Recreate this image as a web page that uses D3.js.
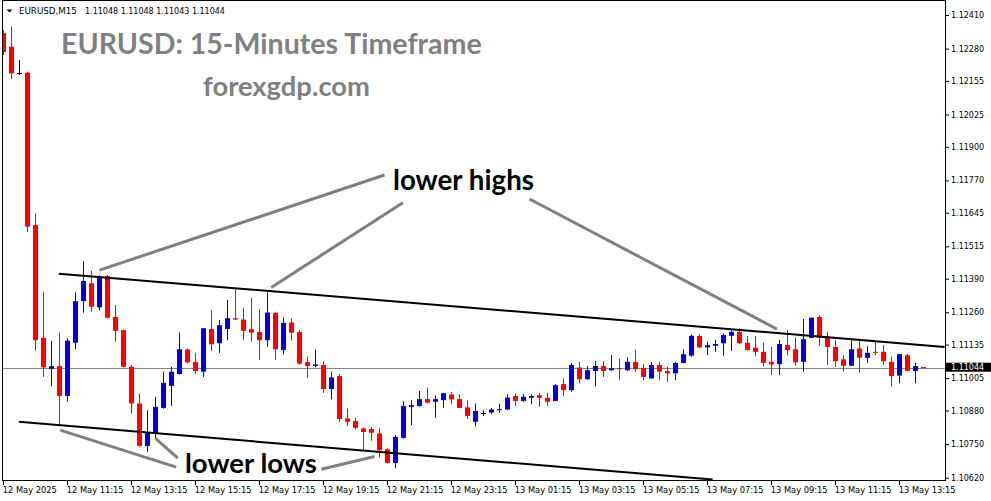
<!DOCTYPE html>
<html><head><meta charset="utf-8">
<script src="https://cdn.jsdelivr.net/npm/d3@7"></script>
<style>
html,body{margin:0;padding:0;background:#fff;}
svg{display:block;}
</style></head><body>
<svg id="c" width="991" height="501"></svg>
<script>
// ---------- data ----------
const symbol = "EURUSD,M15";
const titleText = "EURUSD: 15-Minutes Timeframe";
const siteText = "forexgdp.com";
const timeTickIndex = [0,8,16,24,32,40,48,56,64,72,80,88,96,104,112];
const timeLabels = ["12 May 2025","12 May 11:15","12 May 13:15","12 May 15:15","12 May 17:15","12 May 19:15","12 May 21:15","12 May 23:15","13 May 01:15","13 May 03:15","13 May 05:15","13 May 07:15","13 May 09:15","13 May 11:15","13 May 13:15"];
const priceTicks = [1.12410,1.12280,1.12155,1.12025,1.11900,1.11770,1.11645,1.11515,1.11390,1.11260,1.11135,1.11005,1.10880,1.10750,1.10620];

const open = [
1.12340,1.12287,1.12184,1.12187,1.11597,1.11161,1.11041,1.11052,1.10936,1.11142,
1.11303,1.11372,1.11279,1.11400,1.11242,1.11191,1.11049,1.10907,1.10743,1.10791,
1.10890,1.10975,1.11021,1.11116,1.11068,1.11030,1.11195,1.11140,1.11195,1.11237,
1.11232,1.11195,1.11184,1.11152,1.11258,1.11114,1.11221,1.11184,1.11067,1.11052,
1.11056,1.10963,1.11013,1.10849,1.10839,1.10811,1.10808,1.10791,1.10730,1.10677,
1.10774,1.10894,1.10897,1.10924,1.10914,1.10920,1.10942,1.10924,1.10892,1.10836,
1.10871,1.10872,1.10883,1.10884,1.10936,1.10917,1.10929,1.10939,1.10929,1.10917,
1.10982,1.10959,1.11046,1.11001,1.11033,1.11052,1.11036,1.11044,1.11036,1.11068,
1.11045,1.11004,1.11056,1.11032,1.11024,1.11064,1.11092,1.11168,1.11124,1.11130,
1.11140,1.11169,1.11184,1.11142,1.11123,1.11107,1.11068,1.11059,1.11133,1.11117,
1.11068,1.11161,1.11242,1.11161,1.11126,1.11078,1.11053,1.11120,1.11084,1.11107,
1.11107,1.11068,1.11015,1.11094,1.11033,1.11048];
const high = [
1.12352,1.12365,1.12236,1.12191,1.11643,1.11339,1.11150,1.11181,1.11159,1.11337,
1.11458,1.11420,1.11403,1.11404,1.11288,1.11193,1.11056,1.10946,1.10881,1.10933,
1.11030,1.11049,1.11182,1.11120,1.11103,1.11199,1.11268,1.11230,1.11307,1.11352,
1.11277,1.11316,1.11272,1.11337,1.11258,1.11240,1.11236,1.11191,1.11088,1.11115,
1.11071,1.11030,1.11021,1.10888,1.10852,1.10814,1.10817,1.10813,1.10733,1.10785,
1.10916,1.10920,1.10956,1.10969,1.10939,1.10948,1.10951,1.10942,1.10920,1.10907,
1.10881,1.10890,1.10905,1.10943,1.10946,1.10943,1.10942,1.10948,1.10948,1.10982,
1.11004,1.11064,1.11068,1.11052,1.11071,1.11071,1.11094,1.11081,1.11085,1.11116,
1.11059,1.11068,1.11068,1.11049,1.11068,1.11116,1.11174,1.11175,1.11146,1.11152,
1.11178,1.11194,1.11198,1.11168,1.11168,1.11142,1.11126,1.11152,1.11191,1.11163,
1.11234,1.11239,1.11249,1.11184,1.11152,1.11094,1.11159,1.11155,1.11129,1.11146,
1.11133,1.11088,1.11098,1.11098,1.11064,1.11048];
const low = [
1.12255,1.12162,1.12178,1.11571,1.11111,1.11010,1.10974,1.10823,1.10914,1.11117,
1.11258,1.11262,1.11266,1.11236,1.11146,1.11048,1.10869,1.10740,1.10720,1.10772,
1.10887,1.10898,1.11019,1.11062,1.11021,1.11010,1.11110,1.11103,1.11152,1.11230,
1.11152,1.11146,1.11075,1.11126,1.11075,1.11098,1.11150,1.11057,1.11007,1.11047,
1.10948,1.10923,1.10836,1.10819,1.10807,1.10727,1.10763,1.10698,1.10675,1.10656,
1.10772,1.10823,1.10895,1.10908,1.10852,1.10890,1.10903,1.10889,1.10847,1.10819,
1.10859,1.10866,1.10871,1.10881,1.10897,1.10914,1.10905,1.10894,1.10897,1.10916,
1.10936,1.10952,1.10985,1.10999,1.10974,1.11010,1.11033,1.10997,1.11033,1.11030,
1.10997,1.11003,1.10997,1.10991,1.10997,1.11063,1.11088,1.11122,1.11094,1.11107,
1.11092,1.11111,1.11138,1.11112,1.11088,1.11049,1.11017,1.11017,1.11094,1.11053,
1.11030,1.11160,1.11130,1.11056,1.11049,1.11030,1.11052,1.11026,1.11064,1.11094,
1.11056,1.10972,1.10985,1.11032,1.10985,1.11043];
const close = [
1.12267,1.12184,1.12184,1.11591,1.11152,1.11047,1.11052,1.10936,1.11150,1.11303,
1.11381,1.11281,1.11397,1.11239,1.11188,1.11049,1.10907,1.10743,1.10797,1.10894,
1.10987,1.11030,1.11117,1.11066,1.11033,1.11198,1.11136,1.11210,1.11237,1.11232,
1.11188,1.11181,1.11152,1.11259,1.11117,1.11219,1.11181,1.11061,1.11052,1.11058,
1.10963,1.11008,1.10847,1.10836,1.10813,1.10797,1.10794,1.10727,1.10677,1.10778,
1.10897,1.10901,1.10924,1.10910,1.10924,1.10947,1.10923,1.10890,1.10859,1.10878,
1.10871,1.10884,1.10885,1.10930,1.10917,1.10933,1.10936,1.10929,1.10914,1.10978,
1.10959,1.11056,1.11001,1.11036,1.11052,1.11033,1.11043,1.11041,1.11068,1.11040,
1.11010,1.11056,1.11030,1.11024,1.11064,1.11098,1.11169,1.11124,1.11133,1.11137,
1.11172,1.11184,1.11140,1.11114,1.11107,1.11064,1.11058,1.11137,1.11114,1.11066,
1.11156,1.11239,1.11161,1.11126,1.11071,1.11053,1.11117,1.11084,1.11103,1.11103,
1.11071,1.11013,1.11098,1.11033,1.11052,1.11044];

// trend lines and annotation pointers: [barIndex, price]
const upperTrend = [[6.98,1.11409],[117.7,1.11126]];
const lowerTrend = [[1.98,1.10836],[88.7,1.10613]];
const highPointers = [
  [[12.06,1.11423],[47.69,1.11791]],
  [[33.53,1.11356],[49.98,1.11684]],
  [[65.81,1.11698],[96.73,1.11195]]];
const lowPointers = [
  [[7.15,1.10804],[21.65,1.10661]],
  [[19.06,1.10772],[21.85,1.10696]],
  [[39.78,1.10653],[46.44,1.10702]]];

// ---------- drawing ----------
const svg = d3.select("#c");
const last = open.length - 1;
const x = d3.scaleLinear().domain([0, 115]).range([3, 923]);
const y = d3.scaleLinear().domain([1.10620, 1.12410]).range([477.7, 15]);
const bull = "#0000d2", bear = "#ff0000", doji = "#000000";
const axisFont = "DejaVu Sans, Verdana, sans-serif";

svg.append("rect").attr("width",991).attr("height",501).attr("fill","#fff");

svg.append("defs").append("clipPath").attr("id","plot")
  .append("rect").attr("x",3).attr("y",1).attr("width",942).attr("height",479);

const plot = svg.append("g").attr("clip-path","url(#plot)");

// current price line
const cpY = Math.round(y(close[last])) + 0.5;
plot.append("line").attr("x1",2).attr("x2",945).attr("y1",cpY).attr("y2",cpY)
  .attr("stroke","#778899").attr("stroke-width",1);

// candles
const idx = d3.range(open.length);
const cg = plot.append("g");
const colorOf = i => close[i] > open[i] ? bull : (close[i] < open[i] ? bear : doji);
cg.selectAll("line.wick").data(idx).join("line").attr("class","wick")
  .attr("x1", i => x(i) + 0.5).attr("x2", i => x(i) + 0.5)
  .attr("y1", i => y(high[i])).attr("y2", i => y(low[i]))
  .attr("stroke", colorOf).attr("stroke-width",1);
cg.selectAll("rect.body").data(idx.filter(i => close[i] !== open[i])).join("rect").attr("class","body")
  .attr("x", i => x(i) - 2).attr("width", 5)
  .attr("y", i => y(Math.max(open[i], close[i])))
  .attr("height", i => Math.max(1, Math.abs(y(open[i]) - y(close[i]))))
  .attr("fill", colorOf);
cg.selectAll("line.doji").data(idx.filter(i => close[i] === open[i])).join("line").attr("class","doji")
  .attr("x1", i => x(i) - 2).attr("x2", i => x(i) + 3)
  .attr("y1", i => Math.round(y(open[i])) + 0.5).attr("y2", i => Math.round(y(open[i])) + 0.5)
  .attr("stroke", doji).attr("stroke-width",1);

// trend lines
const lineGen = d3.line().x(d => x(d[0])).y(d => y(d[1]));
[upperTrend, lowerTrend].forEach(t => {
  plot.append("path").attr("d", lineGen(t)).attr("fill","none")
    .attr("stroke","#000").attr("stroke-width",2);
});
// pointers
highPointers.concat(lowPointers).forEach(t => {
  plot.append("path").attr("d", lineGen(t)).attr("fill","none")
    .attr("stroke","#808080").attr("stroke-width",3);
});

// texts
function fit(sel, w) {
  const fs = parseFloat(sel.attr("font-size"));
  const l = sel.node().getComputedTextLength();
  sel.attr("font-size", fs * w / l);
}
const big = "Lato, 'Open Sans', sans-serif";
fit(svg.append("text").attr("x",61).attr("y",54).attr("font-family",big).attr("font-weight",700)
  .attr("font-size",28).attr("fill","#808080").text(titleText), 421);
fit(svg.append("text").attr("x",203).attr("y",96).attr("font-family",big).attr("font-weight",700)
  .attr("font-size",28).attr("fill","#808080").text(siteText), 167);
fit(svg.append("text").attr("x",393).attr("y",190).attr("font-family",big).attr("font-weight",700)
  .attr("font-size",28).attr("fill","#000").text("lower highs"), 141);
fit(svg.append("text").attr("x",185).attr("y",472.5).attr("font-family",big).attr("font-weight",700)
  .attr("font-size",28).attr("fill","#000").text("lower lows"), 132);

// frame
svg.append("rect").attr("x",2.5).attr("y",0.5).attr("width",943).attr("height",480)
  .attr("fill","none").attr("stroke","#000").attr("stroke-width",1);

// right price axis
const ya = svg.append("g").attr("transform","translate(945,0)")
  .call(d3.axisRight(y).tickValues(priceTicks).tickFormat(d3.format(".5f")).tickSize(4).tickPadding(2).tickSizeOuter(0));
ya.select(".domain").remove();
ya.selectAll("text").attr("font-family",axisFont).attr("font-size",8).attr("fill","#000");

// bottom time axis
const xa = svg.append("g").attr("transform","translate(0,480)")
  .call(d3.axisBottom(x).tickValues(timeTickIndex).tickFormat((d,k) => timeLabels[k]).tickSize(5).tickPadding(2).tickSizeOuter(0));
xa.select(".domain").remove();
xa.selectAll("text").attr("font-family",axisFont).attr("font-size",8.3).attr("fill","#000")
  .attr("text-anchor","start").attr("x",-0.8);

// current price label
const cpBox = svg.append("g");
cpBox.append("rect").attr("x",946).attr("y",y(close[last]) - 5.4).attr("width",45).attr("height",9).attr("fill","#000");
cpBox.append("text").attr("x",951).attr("y",y(close[last]) - 0.9).attr("dy","0.32em")
  .attr("font-family",axisFont).attr("font-size",8).attr("fill","#fff").text(d3.format(".5f")(close[last]));

// header
svg.append("path").attr("d","M6.5,9.5 L12.5,9.5 L9.5,12.5 Z").attr("fill","#000");
svg.append("text").attr("x",19).attr("y",13.5).attr("font-family",axisFont).attr("font-size",8.7)
  .attr("fill","#000").text(symbol);
svg.append("text").attr("x",85).attr("y",13.5).attr("font-family",axisFont).attr("font-size",8)
  .attr("fill","#000")
  .text([open[last],high[last],low[last],close[last]].map(d3.format(".5f")).join(" "));
</script>
</body></html>
